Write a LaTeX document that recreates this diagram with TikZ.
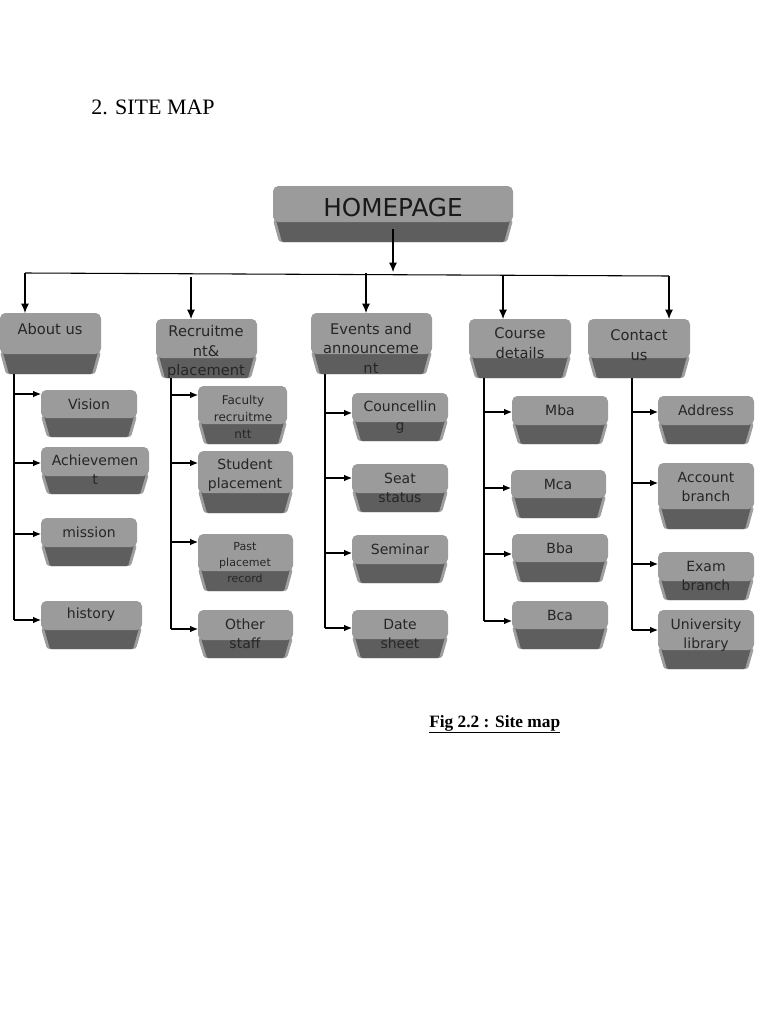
\documentclass[tikz,border=0pt]{standalone}
\usepackage{fontspec}
\setmainfont{Liberation Serif}
\newfontfamily\dv{DejaVu Sans}
\usetikzlibrary{arrows.meta}
\definecolor{lightpart}{HTML}{9B9B9B}
\definecolor{darkpart}{HTML}{5E5E5E}
\definecolor{bevelpart}{HTML}{9E9E9E}
\newcommand\bx[5]{%
  \fill[bevelpart, rounded corners=2] (#1,#4-2) -- (#3,#4-2) -- (#3-6,#5) -- (#1+6,#5) -- cycle;
  \fill[darkpart, rounded corners=1] (#1+3,#4-2) -- (#3-3,#4-2) -- (#3-9,#5) -- (#1+9,#5) -- cycle;
  \fill[lightpart, rounded corners=4] (#1,#2) rectangle (#3,#4);
}
\tikzset{
  txt/.style={font=\dv\fontsize{10.5pt}{14.25pt}\selectfont, align=center, inner sep=0pt, text=black!85},
  toptxt/.style={font=\dv\fontsize{11pt}{14.6pt}\selectfont, align=center, inner sep=0pt, text=black!85},
  smalltxt/.style={font=\dv\fontsize{9pt}{12.75pt}\selectfont, align=center, inner sep=0pt, text=black!85},
  tinytxt/.style={font=\dv\fontsize{8.3pt}{12pt}\selectfont, align=center, inner sep=0pt, text=black!85},
  line/.style={draw=black, line width=0.8pt},
  arr/.style={line, -{Latex[length=6pt,width=5pt]}},
  bigarr/.style={line, -{Latex[length=7pt,width=6pt]}}
}
\begin{document}
\begin{tikzpicture}[x=0.75pt,y=-0.75pt]
\useasboundingbox (0,0) rectangle (768,1024);

% title and caption
\node[anchor=base west, inner sep=0pt, font=\fontsize{16.5pt}{19pt}\selectfont] (title) at (91,114) {2. SITE MAP};
\node[anchor=base west, inner sep=0pt, font=\bfseries\fontsize{13pt}{15pt}\selectfont] (caption) at (429,727) {\underline{Fig 2.2 : Site map}};

% ---------- boxes ----------
\bx{273}{186}{513}{222}{242}
\node[font=\dv\fontsize{18.5pt}{22pt}\selectfont, inner sep=0pt, text=black!90] (home) at (393,208) {HOMEPAGE};

\bx{0}{313}{101}{354}{374}
\node[toptxt] (about) at (50,329) {About us};
\bx{156}{319}{257}{358}{378}
\node[toptxt] (recruit) at (206,352) {Recruitme\\nt\&\\placement};
\bx{311}{313}{432}{354}{374}
\node[toptxt] (events) at (371,348) {Events and\\announceme\\nt};
\bx{469}{319}{571}{358}{378}
\node[toptxt] (course) at (520,343) {Course\\details};
\bx{588}{319}{690}{358}{378}
\node[toptxt] (contact) at (639,345) {Contact\\us};

% About us children
\bx{41}{390}{137}{418}{437}
\node[txt] (vision) at (89,404) {Vision};
\bx{41}{447}{149}{476}{494}
\node[txt] (achieve) at (95,470) {Achievemen\\t};
\bx{41}{518}{137}{547}{566}
\node[txt] (mission) at (89,532) {mission};
\bx{41}{601}{142}{630}{649}
\node[txt] (history) at (91,615) {history};

% Recruitment children
\bx{198}{386}{287}{424}{444}
\node[smalltxt] (faculty) at (243,417) {Faculty\\recruitme\\ntt};
\bx{198}{451}{293}{493}{513}
\node[txt] (student) at (245,475) {Student\\placement};
\bx{198}{534}{293}{571}{591}
\node[tinytxt] (past) at (245,563) {Past\\placemet\\record};
\bx{198}{610}{293}{640}{658}
\node[txt] (other) at (245,634) {Other\\staff};

% Events children
\bx{352}{393}{448}{422}{441}
\node[txt] (councel) at (400,417) {Councellin\\g};
\bx{352}{464}{448}{493}{512}
\node[txt] (seat) at (400,488) {Seat\\status};
\bx{352}{535}{448}{564}{583}
\node[txt] (seminar) at (400,549) {Seminar};
\bx{352}{610}{448}{639}{658}
\node[txt] (date) at (400,634) {Date\\sheet};

% Course children
\bx{512}{396}{608}{425}{444}
\node[txt] (mba) at (560,410) {Mba};
\bx{511}{470}{606}{498}{518}
\node[txt] (mca) at (558,484) {Mca};
\bx{512}{534}{608}{562}{582}
\node[txt] (bba) at (560,548) {Bba};
\bx{512}{601}{608}{629}{649}
\node[txt] (bca) at (560,615) {Bca};

% Contact children
\bx{658}{396}{754}{425}{444}
\node[txt] (address) at (706,410) {Address};
\bx{658}{463}{754}{509}{529}
\node[txt] (account) at (706,487) {Account\\branch};
\bx{658}{552}{754}{581}{600}
\node[txt] (exam) at (706,576) {Exam\\branch};
\bx{658}{610}{754}{650}{669}
\node[txt] (library) at (706,635) {University\\library};

% ---------- connector coordinates ----------
\coordinate (hpout) at (393,229);
\coordinate (busmid) at (393,272);
\coordinate (busL) at (25,273);
\coordinate (busR) at (669,276);
\coordinate (aboutin) at (25,313);
\coordinate (recruitin) at (191,319);
\coordinate (eventsin) at (366,313);
\coordinate (coursein) at (503,319);
\coordinate (contactin) at (669,319);

\coordinate (aboutstem) at (14,374);
\coordinate (recruitstem) at (171,378);
\coordinate (eventsstem) at (325,374);
\coordinate (coursestem) at (484,378);
\coordinate (contactstem) at (632,378);

\coordinate (visionin) at (41,394);
\coordinate (achievein) at (41,463);
\coordinate (missionin) at (41,534);
\coordinate (historyin) at (41,620);
\coordinate (facultyin) at (198,395);
\coordinate (studentin) at (198,463);
\coordinate (pastin) at (198,542);
\coordinate (otherin) at (198,629);
\coordinate (councelin) at (352,413);
\coordinate (seatin) at (352,478);
\coordinate (seminarin) at (352,553);
\coordinate (datein) at (352,628);
\coordinate (mbain) at (512,412);
\coordinate (mcain) at (511,488);
\coordinate (bbain) at (512,554);
\coordinate (bcain) at (512,621);
\coordinate (addressin) at (658,412);
\coordinate (accountin) at (658,483);
\coordinate (examin) at (658,564);
\coordinate (libraryin) at (658,630);

% ---------- connectors ----------
\draw[bigarr] (hpout) -- (busmid);
\draw[line] (busL) -- (busR);
\draw[bigarr] (busL) -- (aboutin);
\draw[bigarr] (recruitin |- busL) ++(0,4) -- (recruitin);
\draw[bigarr] (eventsin |- busL) -- (eventsin);
\draw[bigarr] (coursein |- busR) -- (coursein);
\draw[bigarr] (busR) -- (contactin);

\draw[line] (aboutstem) -- (aboutstem |- historyin);
\foreach \t in {visionin,achievein,missionin,historyin}
  \draw[arr] (aboutstem |- \t) -- (\t);
\draw[line] (recruitstem) -- (recruitstem |- otherin);
\foreach \t in {facultyin,studentin,pastin,otherin}
  \draw[arr] (recruitstem |- \t) -- (\t);
\draw[line] (eventsstem) -- (eventsstem |- datein);
\foreach \t in {councelin,seatin,seminarin,datein}
  \draw[arr] (eventsstem |- \t) -- (\t);
\draw[line] (coursestem) -- (coursestem |- bcain);
\foreach \t in {mbain,mcain,bbain,bcain}
  \draw[arr] (coursestem |- \t) -- (\t);
\draw[line] (contactstem) -- (contactstem |- libraryin);
\foreach \t in {addressin,accountin,examin,libraryin}
  \draw[arr] (contactstem |- \t) -- (\t);
\end{tikzpicture}
\end{document}
